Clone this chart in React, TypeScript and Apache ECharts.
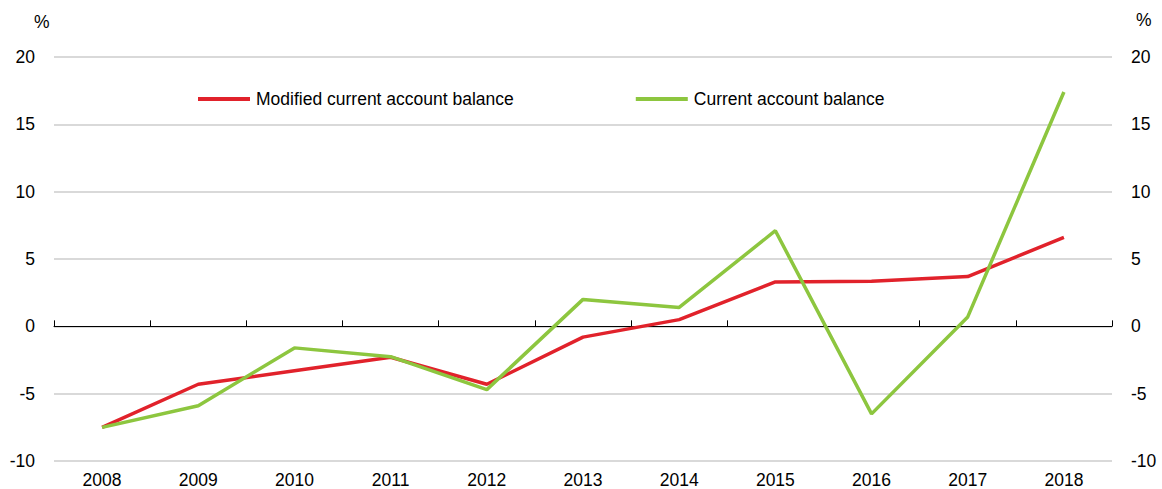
import React, { useEffect, useRef } from "react";
import * as echarts from "echarts";

const years = ["2008", "2009", "2010", "2011", "2012", "2013", "2014", "2015", "2016", "2017", "2018"];
const modifiedCA = [-7.5, -4.3, -3.3, -2.3, -4.3, -0.8, 0.5, 3.3, 3.35, 3.7, 6.6];
const currentCA = [-7.5, -5.9, -1.6, -2.25, -4.7, 2.0, 1.4, 7.1, -6.5, 0.7, 17.4];
const seriesNames = ["Modified current account balance", "Current account balance"];
const colors = ["#e1222b", "#8dc63f"];

export default function App() {
  const ref = useRef<HTMLDivElement>(null);
  useEffect(() => {
    if (!ref.current) return;
    const chart = echarts.init(ref.current, null, { renderer: "svg" });
    const font = "'Liberation Sans', Arial, sans-serif";
    const fs = 17.5;
    const yCommon = {
      type: "value",
      min: -10,
      max: 20,
      interval: 5,
      axisLine: { show: false },
      axisTick: { show: false },
      axisLabel: { fontSize: fs, color: "#000", fontFamily: font, margin: 19 },
    };
    chart.setOption({
      animation: false,
      grid: { left: 54, right: 50, top: 57, bottom: 27, containLabel: false },
      legend: {
        top: 85,
        left: 193,
        itemGap: 122,
        itemWidth: 52,
        itemHeight: 4,
        textStyle: { fontSize: fs, color: "#000", fontFamily: font, padding: [0, 0, 0, 1] },
        data: seriesNames.map((n, i) => ({ name: n, icon: "rect", itemStyle: { color: colors[i] } })),
      },
      graphic: [
        { type: "text", left: 34, top: 13, style: { text: "%", fontSize: fs, fill: "#000", fontFamily: font } },
        { type: "text", left: 1136, top: 11, style: { text: "%", fontSize: fs, fill: "#000", fontFamily: font } },
      ],
      xAxis: [
        {
          type: "category",
          data: years,
          position: "bottom",
          axisLine: { show: false, onZero: false },
          axisTick: { show: false },
          splitLine: { show: false },
          axisLabel: { fontSize: fs, color: "#000", fontFamily: font, margin: 10 },
        },
        {
          type: "category",
          data: years,
          position: "bottom",
          axisLine: { show: true, onZero: true, lineStyle: { color: "#000", width: 1 } },
          axisTick: { show: true, inside: true, length: 6, lineStyle: { color: "#000" } },
          axisLabel: { show: false },
          splitLine: { show: false },
        },
      ],
      yAxis: [
        {
          ...yCommon,
          position: "left",
          splitLine: { show: true, lineStyle: { color: "#d9d9d9", width: 2 } },
        },
        {
          ...yCommon,
          position: "right",
          splitLine: { show: false },
        },
      ],
      series: [
        {
          name: seriesNames[0],
          type: "line",
          data: modifiedCA,
          xAxisIndex: 0,
          yAxisIndex: 0,
          showSymbol: false,
          symbol: "none",
          lineStyle: { color: colors[0], width: 3.5 },
          itemStyle: { color: colors[0] },
          z: 3,
        },
        {
          name: seriesNames[1],
          type: "line",
          data: currentCA,
          xAxisIndex: 0,
          yAxisIndex: 0,
          showSymbol: false,
          symbol: "none",
          lineStyle: { color: colors[1], width: 3.5 },
          itemStyle: { color: colors[1] },
          z: 4,
        },
      ],
    });
    return () => chart.dispose();
  }, []);
  return <div ref={ref} style={{ width: 1162, height: 489, position: "absolute", left: 0, top: 0 }} />;
}
